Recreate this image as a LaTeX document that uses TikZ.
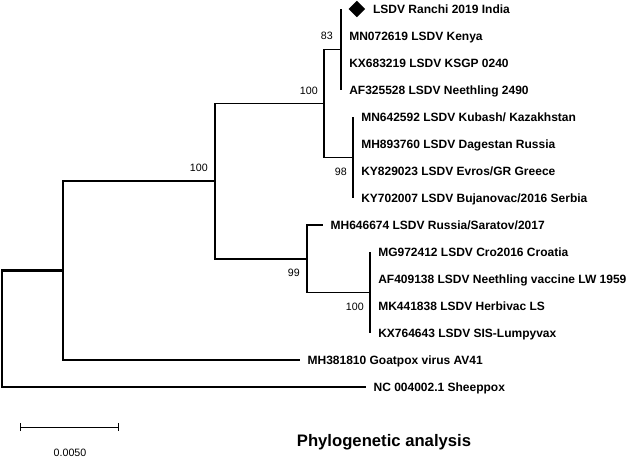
\documentclass[tikz,border=0pt]{standalone}
\usepackage{fontspec}
\setmainfont{Liberation Sans}
\usepackage{tikz}
\usetikzlibrary{positioning,arrows.meta,shapes.geometric}

\begin{document}
\begin{tikzpicture}[
    x=0.75pt, y=-0.75pt,
    branch/.style={draw=black, line width=1.3pt},
    rootBranch/.style={draw=black, line width=1.7pt},
    leaf/.style={anchor=west, inner sep=0pt, font=\fontsize{9}{10}\selectfont\bfseries, text height=6.5pt, text depth=0pt},
    boot/.style={anchor=east, inner sep=0pt, font=\fontsize{8}{9}\selectfont, text height=5.8pt, text depth=0pt}
]
    \useasboundingbox (0,0) rectangle (634,459);

    % Knoten im Inneren
    \coordinate (nRoot) at (2,328.8);
    \coordinate (nOut) at (63,270.6);
    \coordinate (nLsdv) at (215,181.1);
    \coordinate (nUp) at (324,103.5);
    \coordinate (n83) at (341,49.5);
    \coordinate (n98) at (353,157.5);
    \coordinate (n99) at (307,258.8);
    \coordinate (nVac) at (370,292.5);

    % Ranchi-Gruppe
    \coordinate (tRanchi) at (341,9);
    \coordinate (tKenya) at (341,36);
    \coordinate (tKsgp) at (341,63);
    \coordinate (tNeeth) at (341,90);
    \node[diamond, fill=black, inner sep=0pt, minimum size=12.5pt, right=5.5pt of tRanchi] (mark) {};
    \node[leaf, right=5.5pt of mark] (ranchi) {LSDV Ranchi 2019 India};
    \node[leaf, right=6pt of tKenya] (kenya) {MN072619 LSDV Kenya};
    \node[leaf, right=6pt of tKsgp] (ksgp) {KX683219 LSDV KSGP 0240};
    \node[leaf, right=6pt of tNeeth] (neeth) {AF325528 LSDV Neethling 2490};

    % Balkan / Kaukasus
    \coordinate (tKubash) at (353,117);
    \coordinate (tDagestan) at (353,144);
    \coordinate (tEvros) at (353,171);
    \coordinate (tBujan) at (353,198);
    \node[leaf, right=6pt of tKubash] (kubash) {MN642592 LSDV Kubash/ Kazakhstan};
    \node[leaf, right=6pt of tDagestan] (dagestan) {MH893760 LSDV Dagestan Russia};
    \node[leaf, right=6pt of tEvros] (evros) {KY829023 LSDV Evros/GR Greece};
    \node[leaf, right=6pt of tBujan] (bujan) {KY702007 LSDV Bujanovac/2016 Serbia};

    % Impfstaemme
    \coordinate (tSaratov) at (323,225);
    \coordinate (tCro) at (370,252);
    \coordinate (tVaccine) at (370,279);
    \coordinate (tHerbivac) at (370,306);
    \coordinate (tLumpy) at (370,333);
    \node[leaf, right=5.5pt of tSaratov] (saratov) {MH646674 LSDV Russia/Saratov/2017};
    \node[leaf, right=6pt of tCro] (cro) {MG972412 LSDV Cro2016 Croatia};
    \node[leaf, right=6pt of tVaccine] (vaccine) {AF409138 LSDV Neethling vaccine LW 1959};
    \node[leaf, right=6pt of tHerbivac] (herbivac) {MK441838 LSDV Herbivac LS};
    \node[leaf, right=6pt of tLumpy] (lumpy) {KX764643 LSDV SIS-Lumpyvax};

    % Aussengruppen
    \coordinate (tGoat) at (300,360);
    \coordinate (tSheep) at (366,387);
    \node[leaf, right=5.5pt of tGoat] (goat) {MH381810 Goatpox virus AV41};
    \node[leaf, right=5.5pt of tSheep] (sheep) {NC 004002.1 Sheeppox};

    % Zweige
    \draw[branch] (n83) |- (tRanchi);
    \draw[branch] (n83) |- (tKenya);
    \draw[branch] (n83) |- (tKsgp);
    \draw[branch] (n83) |- (tNeeth);
    \draw[branch] (n98) |- (tKubash);
    \draw[branch] (n98) |- (tDagestan);
    \draw[branch] (n98) |- (tEvros);
    \draw[branch] (n98) |- (tBujan);
    \draw[branch] (nUp) |- (n83);
    \draw[branch] (nUp) |- (n98);
    \draw[branch] (nVac) |- (tCro);
    \draw[branch] (nVac) |- (tVaccine);
    \draw[branch] (nVac) |- (tHerbivac);
    \draw[branch] (nVac) |- (tLumpy);
    \draw[branch] (n99) |- (tSaratov);
    \draw[branch] (n99) |- (nVac);
    \draw[branch] (nLsdv) |- (nUp);
    \draw[branch] (nLsdv) |- (n99);
    \draw[branch] (nOut) |- (nLsdv);
    \draw[branch] (nOut) |- (tGoat);
    \draw[rootBranch] (nRoot) |- (nOut);
    \draw[rootBranch] (nRoot) |- (tSheep);

    % Bootstrap-Werte
    \node[boot] (b83) at (333,36) {83};
    \node[boot] (bUp) at (318,91) {100};
    \node[boot] (bLsdv) at (208,168) {100};
    \node[boot] (b98) at (347,172) {98};
    \node[boot] (b99) at (300,273) {99};
    \node[boot] (bVac) at (364,307) {100};

    % Massstab
    \coordinate (barL) at (20,427);
    \coordinate (barR) at (119,427);
    \draw[line width=0.6pt, {Bar[width=6pt]}-{Bar[width=6pt]}] (barL) -- (barR);
    \node[boot, anchor=center] (scaleLbl) at (70,453) {0.0050};

    \node[font=\fontsize{12.5}{15}\selectfont\bfseries] (title) at (384,442) {Phylogenetic analysis};
\end{tikzpicture}
\end{document}
